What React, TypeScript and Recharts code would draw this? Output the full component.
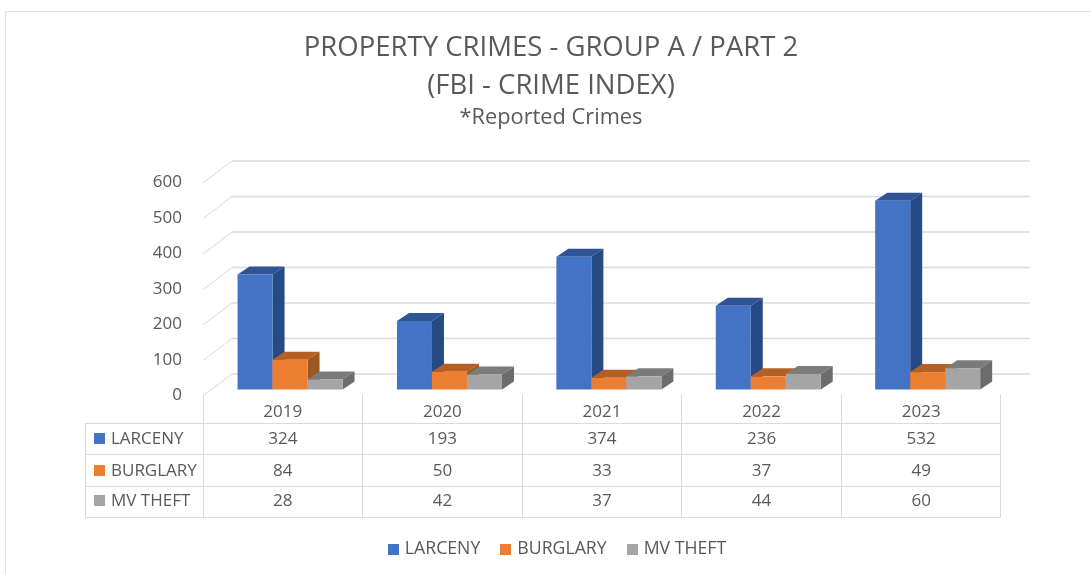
import { BarChart, Bar, XAxis, YAxis, CartesianGrid, Legend } from "recharts";

const years = ["2019", "2020", "2021", "2022", "2023"];
const larceny = [324, 193, 374, 236, 532];
const burglary = [84, 50, 33, 37, 49];
const mvTheft = [28, 42, 37, 44, 60];
const yTicks = [0, 100, 200, 300, 400, 500, 600];

const data = years.map((year, i) => ({
  year,
  larceny: larceny[i],
  burglary: burglary[i],
  mvTheft: mvTheft[i],
}));

const rows = [
  { name: "LARCENY", color: "#4472C4", side: "#264A85", top: "#2F5597", values: larceny },
  { name: "BURGLARY", color: "#ED7D31", side: "#9C5820", top: "#B46024", values: burglary },
  { name: "MV THEFT", color: "#A5A5A5", side: "#6C6C6A", top: "#7B7B7B", values: mvTheft },
];

const FONT = "'Open Sans', sans-serif";
const TEXT = "#595959";
const LINE = "#DADADA";

// fake depth of the excel 3d columns
const DX = 12;
const DY = 8;

// the rows in the screenshot don't sit quite centred
const ROW_NUDGE = [3, 2, 5];

function Column3D(props: any) {
  const { x, y, width, height, fill, side, top } = props;
  return (
    <g>
      <polygon
        points={`${x},${y} ${x + DX},${y - DY} ${x + width + DX},${y - DY} ${x + width},${y}`}
        fill={top}
      />
      <polygon
        points={`${x + width},${y} ${x + width + DX},${y - DY} ${x + width + DX},${y + height - DY} ${x + width},${y + height}`}
        fill={side}
      />
      <rect x={x} y={y} width={width} height={height} fill={fill} />
    </g>
  );
}

// back wall line plus the diagonal running down to the value axis
function WallLine(props: any) {
  const { x1, x2, y1 } = props;
  return (
    <g key={`wall-${y1}`}>
      <line x1={x1 - 8} y1={y1 + 6.5} x2={x1 + 21} y2={y1 - 15.5} stroke={LINE} strokeWidth={1} />
      <line x1={x1 + 21} y1={y1 - 15.5} x2={x2 + 22} y2={y1 - 15.5} stroke={LINE} strokeWidth={1.5} />
    </g>
  );
}

function DataTable() {
  const cell: React.CSSProperties = {
    border: `1.5px solid ${LINE}`,
    padding: 0,
    textAlign: "center",
    boxSizing: "border-box",
  };
  return (
    <table
      style={{
        position: "absolute",
        left: 85,
        top: 394,
        borderCollapse: "collapse",
        tableLayout: "fixed",
        width: 915.5,
        fontFamily: FONT,
        fontSize: 17,
        color: TEXT,
      }}
    >
      <colgroup>
        <col style={{ width: 117.5 }} />
        {years.map((y) => (
          <col key={y} style={{ width: 159.6 }} />
        ))}
      </colgroup>
      <tbody>
        <tr style={{ height: 29 }}>
          <td style={{ ...cell, borderTop: "none", borderLeft: "none" }} />
          {years.map((y) => (
            <td key={y} style={{ ...cell, borderTop: "none", paddingTop: 4 }}>
              {y}
            </td>
          ))}
        </tr>
        {rows.map((r, n) => (
          <tr key={r.name} style={{ height: 31.5 }}>
            <td
              style={{
                ...cell,
                textAlign: "left",
                whiteSpace: "nowrap",
                paddingLeft: 8,
                paddingBottom: ROW_NUDGE[n],
              }}
            >
              <span
                style={{
                  display: "inline-block",
                  width: 11,
                  height: 11,
                  background: r.color,
                  marginRight: 6,
                }}
              />
              {r.name}
            </td>
            {r.values.map((v, i) => (
              <td key={i} style={{ ...cell, paddingBottom: ROW_NUDGE[n] }}>
                {v}
              </td>
            ))}
          </tr>
        ))}
      </tbody>
    </table>
  );
}

export default function App() {
  return (
    <div
      style={{
        position: "absolute",
        left: 0,
        top: 0,
        width: 1091,
        height: 574,
        background: "#fff",
        overflow: "hidden",
        filter: "blur(0.45px)",
      }}
    >
      <div
        style={{
          position: "absolute",
          left: 5,
          top: 11,
          width: 1086,
          height: 563,
          borderTop: "1.5px solid #E3E3E3",
          borderLeft: "1.5px solid #E3E3E3",
          boxSizing: "border-box",
        }}
      />
      <div
        style={{
          position: "absolute",
          left: 0,
          top: 27,
          width: 1102,
          textAlign: "center",
          fontFamily: FONT,
          color: TEXT,
          fontSize: 27.5,
          lineHeight: "38px",
        }}
      >
        <div>PROPERTY CRIMES - GROUP A / PART 2</div>
        <div>(FBI - CRIME INDEX)</div>
        <div style={{ fontSize: 21.8, lineHeight: "26px" }}>*Reported Crimes</div>
      </div>
      <BarChart
        width={1091}
        height={574}
        data={data}
        margin={{ top: 176.5, right: 83, bottom: 184.5, left: 151 }}
        barGap={0}
        barCategoryGap="16.67%"
        style={{ position: "absolute", left: 0, top: 0 }}
      >
        <CartesianGrid vertical={false} horizontal={WallLine} />
        <XAxis dataKey="year" hide />
        <YAxis
          width={60}
          domain={[0, 600]}
          ticks={yTicks}
          tickLine={false}
          axisLine={false}
          tickMargin={23}
          dy={4.5}
          tick={{ fill: TEXT, fontFamily: FONT, fontSize: 17 }}
        />
        <Legend
          layout="horizontal"
          align="center"
          verticalAlign="middle"
          iconType="square"
          iconSize={11}
          itemSorter={null}
          wrapperStyle={{ position: "absolute", left: 367, top: 535, width: 400, height: 26, fontFamily: FONT, fontSize: 17.7 }}
          formatter={(value: string) => (
            <span style={{ color: TEXT, marginLeft: 2, marginRight: 10 }}>{value}</span>
          )}
        />
        {rows.map((r, i) => (
          <Bar
            key={r.name}
            name={r.name}
            dataKey={["larceny", "burglary", "mvTheft"][i]}
            fill={r.color}
            isAnimationActive={false}
            shape={(p: any) => <Column3D {...p} side={r.side} top={r.top} />}
          />
        ))}
      </BarChart>
      <DataTable />
    </div>
  );
}
